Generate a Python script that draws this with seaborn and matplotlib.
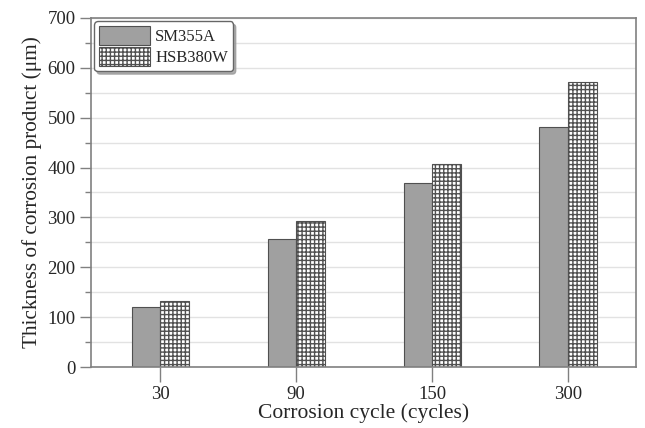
import pandas as pd
import numpy as np
import matplotlib
matplotlib.use("Agg")
import matplotlib.pyplot as plt
import seaborn as sns

cycles = ["30", "90", "150", "300"]
sm355a = [120, 257, 370, 481]
hsb380w = [132, 292, 408, 572]

df = pd.DataFrame({
    "cycle": cycles * 2,
    "thickness": sm355a + hsb380w,
    "steel": ["SM355A"] * 4 + ["HSB380W"] * 4,
})

sns.set_style("white")
plt.rcParams["font.family"] = ["Liberation Serif", "DejaVu Serif"]
plt.rcParams["hatch.color"] = "#a0a0a0"
plt.rcParams["hatch.linewidth"] = 1.0

fig = plt.figure(figsize=(6.45, 4.28), dpi=100)
ax = fig.add_axes([0.1410, 0.1425, 0.8450, 0.8155])

sns.barplot(data=df, x="cycle", y="thickness", hue="steel", ax=ax,
            palette=["#a0a0a0", "white"], width=0.42, gap=0,
            edgecolor="#505050", linewidth=0.8, saturation=1)

for bar in ax.patches[4:8]:
    bar.set_hatch("++++")
    bar.set_edgecolor("#505050")

ax.set_xlim(-0.51, 3.5)
ax.set_ylim(0, 700)
ax.set_yticks(range(0, 701, 100))
ax.set_yticks(range(50, 700, 100), minor=True)
ax.yaxis.grid(True, which="both", color="#e2e2e2", linewidth=1)
ax.set_axisbelow(True)
ax.tick_params(axis="x", which="major", labelsize=13.5, direction="out",
               length=11, color="#808080", width=1, bottom=True, pad=3)
ax.tick_params(axis="y", which="major", labelsize=13.5, direction="out",
               length=8, color="#808080", width=1, left=True, pad=3)
ax.tick_params(axis="y", which="minor", direction="out", length=4,
               color="#808080", width=1, left=True)
for s in ax.spines.values():
    s.set_color("#808080")
    s.set_linewidth(1.2)

ax.set_xlabel("Corrosion cycle (cycles)", fontsize=15.5, labelpad=0)
ax.set_ylabel("Thickness of corrosion product (μm)", fontsize=15.3, labelpad=4)

handles, labels = ax.get_legend_handles_labels()
handles[1].set_hatch("++++")
leg = ax.legend(handles, labels, loc="upper left", fontsize=12, frameon=True,
                fancybox=True, shadow={"color": "#9a9a9a", "alpha": 0.8},
                edgecolor="#666666", handlelength=3.05, handleheight=1.35,
                borderpad=0.3, labelspacing=0.12, handletextpad=0.3,
                borderaxespad=0.0, bbox_to_anchor=(0.006, 0.99))
leg.get_frame().set_linewidth(1)

fig.savefig("out.png", dpi=100)
